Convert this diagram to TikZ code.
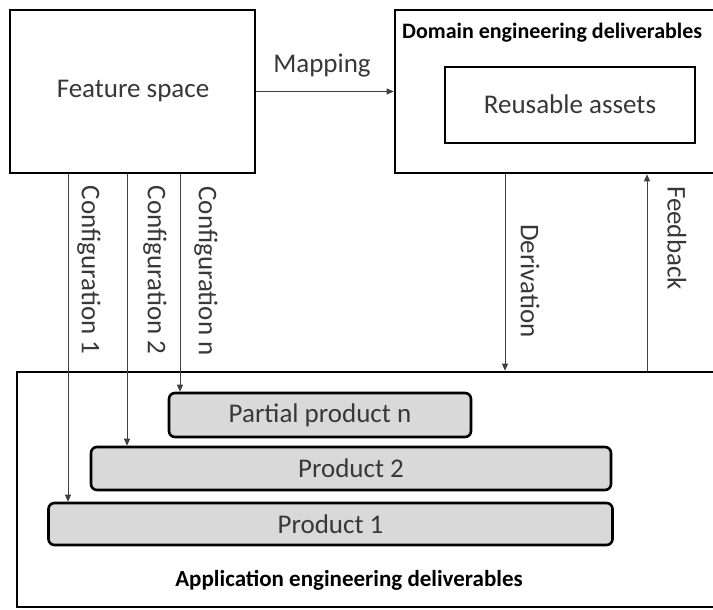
\documentclass[tikz,border=0pt]{standalone}
\usepackage{fontspec}
\setmainfont{Carlito}
\usetikzlibrary{arrows.meta}
\definecolor{ink}{HTML}{383838}
\definecolor{prodfill}{HTML}{D9D9D9}
\tikzset{
  bigbox/.style={draw=black, line width=2.6pt, fill=white, inner sep=0pt},
  prodbox/.style={draw=black, line width=2.6pt, fill=prodfill, rounded corners=6pt, inner sep=0pt, text=ink, font=\fontsize{27}{32}\selectfont},
  lbl/.style={text=ink, font=\fontsize{27}{32}\selectfont, inner sep=0pt},
  boldlbl/.style={text=black, font=\bfseries\fontsize{23}{27}\selectfont, inner sep=0pt},
  vlbl/.style={lbl, rotate=-90},
  arr/.style={draw=black!75, line width=0.8pt, -{Triangle[length=7pt,width=6pt]}},
}
\begin{document}
\begin{tikzpicture}[x=1pt, y=-1pt]
  \useasboundingbox (0,0) rectangle (713,610);
  \clip (0,0) rectangle (713,610);

  % top left: feature space
  \node[bigbox, minimum width=245pt, minimum height=163pt] (feat) at (132.5,91.5) {};
  \node[lbl] (featlbl) at (133,91) {Feature space};

  % top right: domain engineering deliverables
  \node[bigbox, minimum width=335pt, minimum height=163pt] (dom) at (562.5,91.5) {};
  \node[boldlbl, font=\bfseries\fontsize{22}{26}\selectfont, anchor=west] (domlbl) at (402,33) {Domain engineering deliverables};
  \node[bigbox, minimum width=250pt, minimum height=76pt] (reuse) at (570,105) {};
  \node[lbl] (reuselbl) at (570,104) {Reusable assets};

  % bottom: application engineering deliverables
  \node[bigbox, minimum width=713pt, minimum height=235pt] (app) at (373.5,489.5) {};
  \node[prodbox, minimum width=302pt, minimum height=44pt] (pn) at (320,415) {Partial product n};
  \node[prodbox, minimum width=520pt, minimum height=43pt] (p2) at (351,468.5) {Product 2};
  \node[prodbox, minimum width=564pt, minimum height=42pt] (p1) at (330.5,524) {Product 1};
  \node[boldlbl] (applbl) at (349,580) {Application engineering deliverables};

  % mapping
  \draw[arr] (feat.east) -- (dom.west);
  \node[lbl] (maplbl) at (322,66) {Mapping};

  % configurations
  \coordinate (c1) at (68,0);
  \coordinate (c2) at (127,0);
  \coordinate (cn) at (180,0);
  \draw[arr] (feat.south -| c1) -- (p1.north -| c1);
  \draw[arr] (feat.south -| c2) -- (p2.north -| c2);
  \draw[arr] (feat.south -| cn) -- (pn.north -| cn);
  \node[vlbl] (c1lbl) at (89,270) {Configuration 1};
  \node[vlbl] (c2lbl) at (155,270) {Configuration 2};
  \node[vlbl] (cnlbl) at (206,271) {Configuration n};

  % derivation and feedback
  \coordinate (dx) at (505,0);
  \coordinate (fx) at (647,0);
  \draw[arr] (dom.south -| dx) -- (app.north -| dx);
  \draw[arr] (app.north -| fx) -- (dom.south -| fx);
  \node[vlbl] (derlbl) at (530,281) {Derivation};
  \node[vlbl] (fblbl) at (677,238) {Feedback};
\end{tikzpicture}
\end{document}
